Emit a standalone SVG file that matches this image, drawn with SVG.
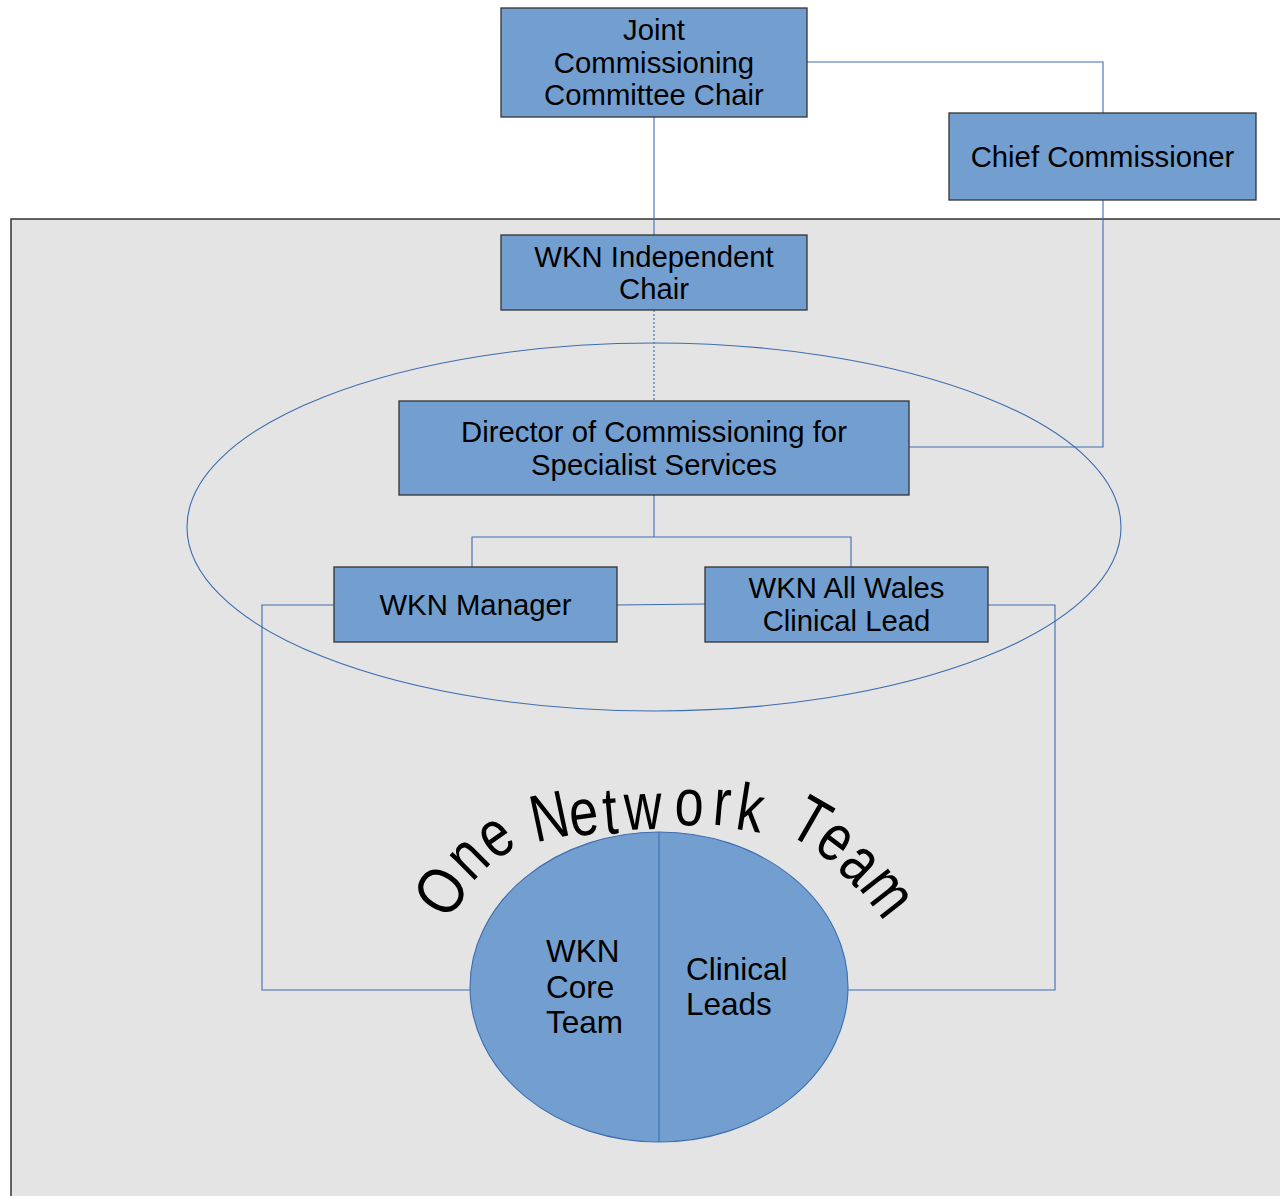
<svg xmlns="http://www.w3.org/2000/svg" width="1280" height="1196" viewBox="0 0 1280 1196">
<style>
.box{fill:#729fcf;stroke:#333;stroke-width:1.3}
.t{font-family:"Liberation Sans",Arial,sans-serif;font-size:29.3px;fill:#000;text-anchor:middle}
.b{font-family:"Liberation Sans",Arial,sans-serif;font-size:31.5px;fill:#000}
.c{fill:none;stroke:#3d6db0;stroke-width:1.1}
.arc{font-family:"Liberation Sans",Arial,sans-serif;font-size:58px;fill:#000;text-anchor:middle}
</style>
<rect width="1280" height="1196" fill="#fff"/>
<rect id="network-area" x="11" y="219" width="1290" height="1000" fill="#e4e4e4" stroke="#333" stroke-width="1.5"/>
<g id="connectors">
<ellipse cx="654" cy="527" rx="467" ry="184" class="c"/>
<polyline class="c" points="807,62 1103,62 1103,113"/>
<line class="c" x1="654" y1="117" x2="654" y2="235"/>
<line class="c" x1="654" y1="310" x2="654" y2="401" stroke-dasharray="2 2"/>
<polyline class="c" points="1103,200 1103,447 909,447"/>
<line class="c" x1="654" y1="495" x2="654" y2="537"/>
<polyline class="c" points="472,567 472,537 851,537 851,567"/>
<line class="c" x1="617" y1="605" x2="705" y2="604"/>
<polyline class="c" points="334,605 262,605 262,990 470,990"/>
<polyline class="c" points="988,605 1055,605 1055,990 848,990"/>
</g>
<g id="joint-chair">
<rect class="box" x="501" y="8" width="306" height="109"/>
<text class="t" x="654" y="40">Joint</text>
<text class="t" x="654" y="73">Commissioning</text>
<text class="t" x="654" y="105">Committee Chair</text>
</g>
<g id="chief-commissioner">
<rect class="box" x="949" y="113" width="307" height="87"/>
<text class="t" x="1102.5" y="167">Chief Commissioner</text>
</g>
<g id="independent-chair">
<rect class="box" x="501" y="235" width="306" height="75"/>
<text class="t" x="654" y="267">WKN Independent</text>
<text class="t" x="654" y="299">Chair</text>
</g>
<g id="director">
<rect class="box" x="399" y="401" width="510" height="94"/>
<text class="t" x="654" y="442">Director of Commissioning for</text>
<text class="t" x="654" y="475">Specialist Services</text>
</g>
<g id="wkn-manager">
<rect class="box" x="334" y="567" width="283" height="75"/>
<text class="t" x="475.5" y="615">WKN Manager</text>
</g>
<g id="clinical-lead">
<rect class="box" x="705" y="567" width="283" height="75"/>
<text class="t" x="846.5" y="598">WKN All Wales</text>
<text class="t" x="846.5" y="631">Clinical Lead</text>
</g>
<g id="one-network-team">
<ellipse cx="659" cy="987" rx="189" ry="155" fill="#729fcf" stroke="#3d6db0" stroke-width="1.1"/>
<line x1="659" y1="832" x2="659" y2="1142" stroke="#3d6db0" stroke-width="1.1"/>
<text class="b" x="546" y="962">WKN</text>
<text class="b" x="546" y="998">Core</text>
<text class="b" x="546" y="1033">Team</text>
<text class="b" x="686" y="980">Clinical</text>
<text class="b" x="686" y="1015">Leads</text>
<g id="arc-title">
<text class="arc" transform="translate(440,890) rotate(-55) scale(0.95,1.15)" y="21">O</text>
<text class="arc" transform="translate(470,860) rotate(-45) scale(0.9,1.15)" y="15">n</text>
<text class="arc" transform="translate(497,839) rotate(-35) scale(0.9,1.15)" y="15">e</text>
<text class="arc" transform="translate(549,815) rotate(-12) scale(0.9,1.15)" y="21">N</text>
<text class="arc" transform="translate(584,818) rotate(-8) scale(0.9,1.15)" y="15">e</text>
<text class="arc" transform="translate(610,812) rotate(-5) scale(0.9,1.15)" y="19">t</text>
<text class="arc" transform="translate(643,812) rotate(-2) scale(0.9,1.15)" y="15">w</text>
<text class="arc" transform="translate(689,808) rotate(2) scale(0.9,1.15)" y="15">o</text>
<text class="arc" transform="translate(722,808) rotate(5) scale(0.9,1.15)" y="15">r</text>
<text class="arc" transform="translate(751,807) rotate(9) scale(0.9,1.15)" y="21">k</text>
<text class="arc" transform="translate(812,820) rotate(30) scale(0.9,1.15)" y="21">T</text>
<text class="arc" transform="translate(834,843) rotate(37) scale(0.9,1.15)" y="15">e</text>
<text class="arc" transform="translate(858,866) rotate(44) scale(0.9,1.15)" y="15">a</text>
<text class="arc" transform="translate(885,894) rotate(52) scale(0.9,1.15)" y="15">m</text>
</g>
</g>
</svg>
